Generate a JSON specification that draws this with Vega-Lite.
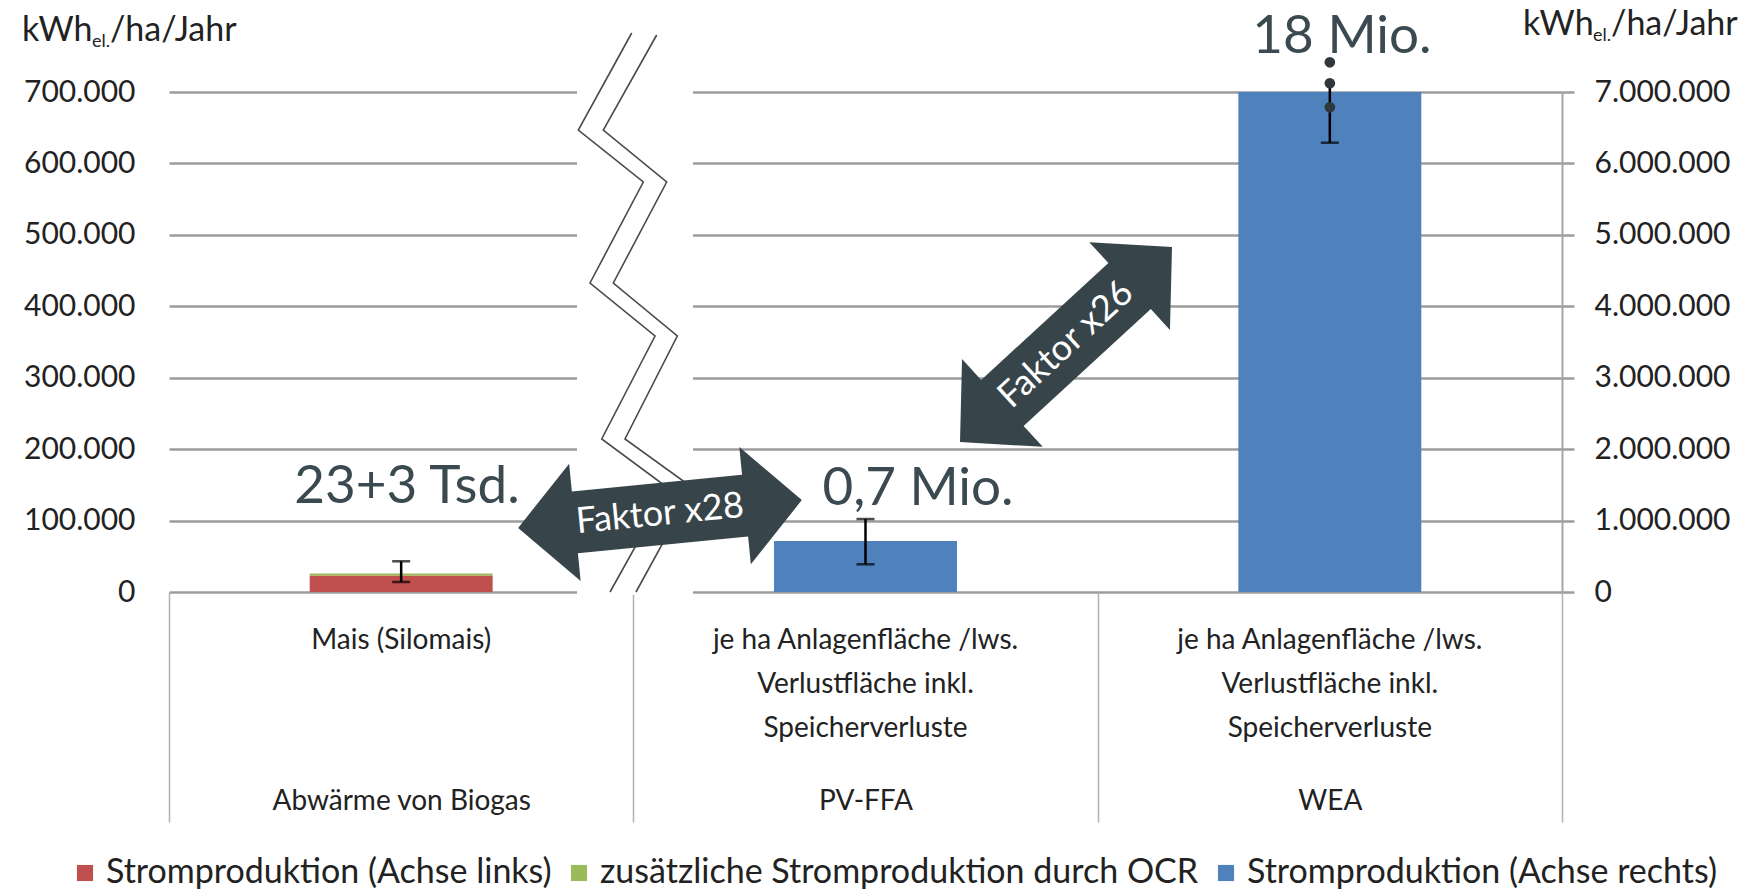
{
  "$schema": "https://vega.github.io/schema/vega-lite/v6.json",
  "width": 1393,
  "height": 500,
  "autosize": {"type": "none"},
  "padding": {"left": 169, "top": 92, "right": 200, "bottom": 304},
  "background": "white",
  "config": {
    "locale": {"number": {"decimal": ",", "thousands": ".", "grouping": [3], "currency": ["", " €"]}},
    "font": "Lato",
    "view": {"stroke": null},
    "axis": {"labelFont": "Lato", "labelColor": "#222222"},
    "legend": {"labelFont": "Lato", "labelColor": "#222222"}
  },
  "datasets": {
    "links": [
      {"gruppe": "Abwärme von Biogas", "reihe": "Stromproduktion (Achse links)", "wert": 23000, "folge": 1},
      {"gruppe": "Abwärme von Biogas", "reihe": "zusätzliche Stromproduktion durch OCR", "wert": 3000, "folge": 2}
    ],
    "rechts": [
      {"gruppe": "PV-FFA", "reihe": "Stromproduktion (Achse rechts)", "wert": 715000},
      {"gruppe": "WEA", "reihe": "Stromproduktion (Achse rechts)", "wert": 18000000}
    ],
    "fehlerLinks": [
      {"gruppe": "Abwärme von Biogas", "unten": 14000, "oben": 43000}
    ],
    "fehlerRechts": [
      {"gruppe": "PV-FFA", "unten": 388000, "oben": 1022000},
      {"gruppe": "WEA", "unten": 6290000, "oben": 7122000}
    ],
    "kappenLinks": [
      {"gruppe": "Abwärme von Biogas", "wert": 14000},
      {"gruppe": "Abwärme von Biogas", "wert": 43000}
    ],
    "kappenRechts": [
      {"gruppe": "PV-FFA", "wert": 388000},
      {"gruppe": "PV-FFA", "wert": 1022000},
      {"gruppe": "WEA", "wert": 6290000}
    ],
    "punkte": [
      {"gruppe": "WEA", "wert": 6786000},
      {"gruppe": "WEA", "wert": 7122000},
      {"gruppe": "WEA", "wert": 7416000}
    ],
    "werte": [
      {"text": "23+3 Tsd.", "x": 0.5126, "y": 147000},
      {"text": "0,7 Mio.", "x": 1.613, "y": 144200},
      {"text": "18 Mio.", "x": 2.526, "y": 777000}
    ],
    "bruch": [
      {"x": 0.8787, "x2": 1.1285, "y": -4000, "y2": 704000}
    ],
    "zickzack": [
      {"linie": "a", "x": 0.9965, "y": 782600},
      {"linie": "a", "x": 0.8815, "y": 646800},
      {"linie": "a", "x": 1.0215, "y": 574000},
      {"linie": "a", "x": 0.9067, "y": 432600},
      {"linie": "a", "x": 1.0467, "y": 358400},
      {"linie": "a", "x": 0.9319, "y": 214200},
      {"linie": "a", "x": 1.0747, "y": 145600},
      {"linie": "a", "x": 0.9498, "y": 0},
      {"linie": "b", "x": 1.0503, "y": 779800},
      {"linie": "b", "x": 0.9353, "y": 646800},
      {"linie": "b", "x": 1.0718, "y": 574000},
      {"linie": "b", "x": 0.9569, "y": 432600},
      {"linie": "b", "x": 1.0947, "y": 358400},
      {"linie": "b", "x": 0.9820, "y": 214200},
      {"linie": "b", "x": 1.1285, "y": 145600},
      {"linie": "b", "x": 1.0057, "y": 0}
    ],
    "pfeil1": [{"text": "Faktor x28", "x": 1.0574, "y": 109200}],
    "pfeil2": [{"text": "Faktor x26", "x": 1.9318, "y": 346500}],
    "titel": [
      {"text": "kWh", "x": -0.3166, "y": 771400},
      {"text": "/ha/Jahr", "x": -0.1271, "y": 771400},
      {"text": "kWh", "x": 2.9161, "y": 779800},
      {"text": "/ha/Jahr", "x": 3.1056, "y": 779800}
    ],
    "titelSub": [
      {"text": "el.", "x": -0.1658, "y": 763000},
      {"text": "el.", "x": 3.0668, "y": 771400}
    ]
  },
  "resolve": {"scale": {"x": "independent", "y": "independent"}},
  "layer": [
    {
      "data": {"name": "links"},
      "mark": {"type": "bar", "width": {"band": 0.394}},
      "encoding": {
        "x": {
          "field": "gruppe", "type": "nominal",
          "scale": {"type": "band", "domain": ["Abwärme von Biogas", "PV-FFA", "WEA"], "paddingInner": 0, "paddingOuter": 0},
          "axis": {
            "orient": "bottom", "title": null, "domain": false, "ticks": false, "grid": false,
            "labelAngle": 0, "labelFontSize": 28, "labelLineHeight": 44, "labelBaseline": "top",
            "labelPadding": 34, "labelLimit": 0,
            "labelExpr": "datum.value == 'Abwärme von Biogas' ? 'Mais (Silomais)' : ['je ha Anlagenfläche /lws.', 'Verlustfläche inkl.', 'Speicherverluste']"
          }
        },
        "y": {
          "field": "wert", "type": "quantitative", "stack": "zero",
          "scale": {"domain": [0, 700000], "nice": false},
          "axis": {
            "orient": "left", "title": null, "grid": true, "gridColor": "#9c9c9c", "gridWidth": 2.5,
            "domain": false, "ticks": false, "labelPadding": 34, "labelFontSize": 30,
            "values": [0, 100000, 200000, 300000, 400000, 500000, 600000, 700000], "format": ",d"
          }
        },
        "color": {
          "field": "reihe", "type": "nominal",
          "scale": {"domain": ["Stromproduktion (Achse links)", "zusätzliche Stromproduktion durch OCR", "Stromproduktion (Achse rechts)"], "range": ["#c0504d", "#9bbb59", "#4f81bd"]},
          "legend": {"orient": "none", "legendX": -101, "legendY": 764, "direction": "horizontal", "title": null, "labelFontSize": 34, "symbolType": "square", "symbolSize": 260, "symbolStrokeWidth": 0, "columnPadding": 10, "labelLimit": 0, "labelOffset": 4}
        },
        "order": {"field": "folge", "type": "quantitative"}
      }
    },
    {
      "data": {"name": "rechts"},
      "mark": {"type": "bar", "width": {"band": 0.394}, "clip": true},
      "encoding": {
        "x": {
          "field": "gruppe", "type": "nominal",
          "scale": {"type": "band", "domain": ["Abwärme von Biogas", "PV-FFA", "WEA"], "paddingInner": 0, "paddingOuter": 0},
          "axis": null
        },
        "y": {
          "field": "wert", "type": "quantitative",
          "scale": {"domain": [0, 7000000], "nice": false},
          "axis": {
            "orient": "right", "title": null, "grid": false,
            "domain": true, "domainColor": "#a6a6a6", "domainWidth": 2,
            "ticks": true, "tickSize": 12, "tickColor": "#9c9c9c", "tickWidth": 2.5,
            "labelPadding": 20, "labelFontSize": 30,
            "values": [0, 1000000, 2000000, 3000000, 4000000, 5000000, 6000000, 7000000], "format": ",d"
          }
        },
        "color": {
          "field": "reihe", "type": "nominal",
          "scale": {"domain": ["Stromproduktion (Achse links)", "zusätzliche Stromproduktion durch OCR", "Stromproduktion (Achse rechts)"], "range": ["#c0504d", "#9bbb59", "#4f81bd"]},
          "legend": {"orient": "none", "legendX": -101, "legendY": 764, "direction": "horizontal", "title": null, "labelFontSize": 34, "symbolType": "square", "symbolSize": 260, "symbolStrokeWidth": 0, "columnPadding": 10, "labelLimit": 0, "labelOffset": 4}
        }
      }
    },
    {
      "data": {"name": "bruch"},
      "mark": {"type": "rect", "color": "white", "opacity": 1},
      "encoding": {
        "x": {"field": "x", "type": "quantitative", "scale": {"domain": [0, 3], "nice": false, "zero": false}, "axis": null},
        "x2": {"field": "x2"},
        "y": {"field": "y", "type": "quantitative", "scale": {"domain": [0, 700000], "nice": false}, "axis": null},
        "y2": {"field": "y2"}
      }
    },
    {
      "data": {"name": "zickzack"},
      "mark": {"type": "line", "color": "#4a4a4a", "strokeWidth": 1.6, "clip": false},
      "encoding": {
        "x": {"field": "x", "type": "quantitative", "scale": {"domain": [0, 3], "nice": false, "zero": false}, "axis": null},
        "y": {"field": "y", "type": "quantitative", "scale": {"domain": [0, 700000], "nice": false}, "axis": null},
        "detail": {"field": "linie", "type": "nominal"},
        "order": {"value": null}
      }
    },
    {
      "data": {"name": "fehlerLinks"},
      "mark": {"type": "rule", "color": "black", "strokeWidth": 2.5},
      "encoding": {
        "x": {
          "field": "gruppe", "type": "nominal", "bandPosition": 0.5,
          "scale": {"type": "band", "domain": ["Abwärme von Biogas", "PV-FFA", "WEA"], "paddingInner": 0, "paddingOuter": 0},
          "axis": {
            "orient": "bottom", "title": null, "domain": false, "grid": false,
            "ticks": true, "tickBand": "extent", "tickSize": 230, "tickColor": "#b3b3b3", "tickWidth": 1.5,
            "labelAngle": 0, "labelFontSize": 28, "labelBaseline": "top", "labelPadding": -35, "labelLimit": 0
          }
        },
        "y": {"field": "unten", "type": "quantitative", "scale": {"domain": [0, 700000], "nice": false}, "axis": null},
        "y2": {"field": "oben"}
      }
    },
    {
      "data": {"name": "fehlerRechts"},
      "mark": {"type": "rule", "color": "black", "strokeWidth": 2.5},
      "encoding": {
        "x": {
          "field": "gruppe", "type": "nominal", "bandPosition": 0.5,
          "scale": {"type": "band", "domain": ["Abwärme von Biogas", "PV-FFA", "WEA"], "paddingInner": 0, "paddingOuter": 0},
          "axis": null
        },
        "y": {"field": "unten", "type": "quantitative", "scale": {"domain": [0, 7000000], "nice": false}, "axis": null},
        "y2": {"field": "oben"}
      }
    },
    {
      "data": {"name": "kappenLinks"},
      "mark": {"type": "tick", "color": "black", "thickness": 2.5, "size": 18, "orient": "horizontal"},
      "encoding": {
        "x": {
          "field": "gruppe", "type": "nominal", "bandPosition": 0.5,
          "scale": {"type": "band", "domain": ["Abwärme von Biogas", "PV-FFA", "WEA"], "paddingInner": 0, "paddingOuter": 0},
          "axis": null
        },
        "y": {"field": "wert", "type": "quantitative", "scale": {"domain": [0, 700000], "nice": false}, "axis": null}
      }
    },
    {
      "data": {"name": "kappenRechts"},
      "mark": {"type": "tick", "color": "black", "thickness": 2.5, "size": 18, "orient": "horizontal"},
      "encoding": {
        "x": {
          "field": "gruppe", "type": "nominal", "bandPosition": 0.5,
          "scale": {"type": "band", "domain": ["Abwärme von Biogas", "PV-FFA", "WEA"], "paddingInner": 0, "paddingOuter": 0},
          "axis": null
        },
        "y": {"field": "wert", "type": "quantitative", "scale": {"domain": [0, 7000000], "nice": false}, "axis": null}
      }
    },
    {
      "data": {"name": "punkte"},
      "mark": {"type": "point", "filled": true, "color": "#30383b", "opacity": 1, "size": 115},
      "encoding": {
        "x": {
          "field": "gruppe", "type": "nominal", "bandPosition": 0.5,
          "scale": {"type": "band", "domain": ["Abwärme von Biogas", "PV-FFA", "WEA"], "paddingInner": 0, "paddingOuter": 0},
          "axis": null
        },
        "y": {"field": "wert", "type": "quantitative", "scale": {"domain": [0, 7000000], "nice": false}, "axis": null}
      }
    },
    {
      "data": {"name": "werte"},
      "mark": {"type": "text", "fontSize": 53, "color": "#3a4a50", "align": "center", "baseline": "middle", "font": "Lato"},
      "encoding": {
        "x": {"field": "x", "type": "quantitative", "scale": {"domain": [0, 3], "nice": false, "zero": false}, "axis": null},
        "y": {"field": "y", "type": "quantitative", "scale": {"domain": [0, 700000], "nice": false}, "axis": null},
        "text": {"field": "text"}
      }
    },
    {
      "data": {"name": "pfeil1"},
      "mark": {"type": "point", "shape": "M -1 0 L -0.6 -0.414 L -0.6 -0.2175 L 0.6 -0.2175 L 0.6 -0.414 L 1 0 L 0.6 0.414 L 0.6 0.2175 L -0.6 0.2175 L -0.6 0.414 Z", "size": 81225, "angle": -5.6, "filled": true, "color": "#37454b", "opacity": 1},
      "encoding": {
        "x": {"field": "x", "type": "quantitative", "scale": {"domain": [0, 3], "nice": false, "zero": false}, "axis": null},
        "y": {"field": "y", "type": "quantitative", "scale": {"domain": [0, 700000], "nice": false}, "axis": null}
      }
    },
    {
      "data": {"name": "pfeil1"},
      "mark": {"type": "text", "fontSize": 36, "color": "white", "align": "center", "baseline": "middle", "angle": -5.6, "font": "Lato"},
      "encoding": {
        "x": {"field": "x", "type": "quantitative", "scale": {"domain": [0, 3], "nice": false, "zero": false}, "axis": null},
        "y": {"field": "y", "type": "quantitative", "scale": {"domain": [0, 700000], "nice": false}, "axis": null},
        "text": {"field": "text"}
      }
    },
    {
      "data": {"name": "pfeil2"},
      "mark": {"type": "point", "shape": "M -1 0 L -0.6 -0.414 L -0.6 -0.2175 L 0.6 -0.2175 L 0.6 -0.414 L 1 0 L 0.6 0.414 L 0.6 0.2175 L -0.6 0.2175 L -0.6 0.414 Z", "size": 82944, "angle": -42.6, "filled": true, "color": "#37454b", "opacity": 1},
      "encoding": {
        "x": {"field": "x", "type": "quantitative", "scale": {"domain": [0, 3], "nice": false, "zero": false}, "axis": null},
        "y": {"field": "y", "type": "quantitative", "scale": {"domain": [0, 700000], "nice": false}, "axis": null}
      }
    },
    {
      "data": {"name": "pfeil2"},
      "mark": {"type": "text", "fontSize": 36, "color": "white", "align": "center", "baseline": "middle", "angle": -42.6, "font": "Lato"},
      "encoding": {
        "x": {"field": "x", "type": "quantitative", "scale": {"domain": [0, 3], "nice": false, "zero": false}, "axis": null},
        "y": {"field": "y", "type": "quantitative", "scale": {"domain": [0, 700000], "nice": false}, "axis": null},
        "text": {"field": "text"}
      }
    },
    {
      "data": {"name": "titel"},
      "mark": {"type": "text", "fontSize": 34, "color": "#222222", "align": "left", "baseline": "alphabetic", "font": "Lato"},
      "encoding": {
        "x": {"field": "x", "type": "quantitative", "scale": {"domain": [0, 3], "nice": false, "zero": false}, "axis": null},
        "y": {"field": "y", "type": "quantitative", "scale": {"domain": [0, 700000], "nice": false}, "axis": null},
        "text": {"field": "text"}
      }
    },
    {
      "data": {"name": "titelSub"},
      "mark": {"type": "text", "fontSize": 18, "color": "#222222", "align": "left", "baseline": "alphabetic", "font": "Lato"},
      "encoding": {
        "x": {"field": "x", "type": "quantitative", "scale": {"domain": [0, 3], "nice": false, "zero": false}, "axis": null},
        "y": {"field": "y", "type": "quantitative", "scale": {"domain": [0, 700000], "nice": false}, "axis": null},
        "text": {"field": "text"}
      }
    }
  ]
}
